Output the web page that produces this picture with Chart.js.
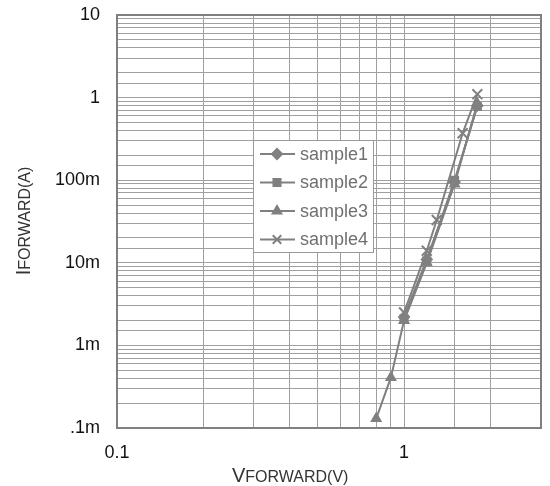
<!DOCTYPE html>
<html>
<head>
<meta charset="utf-8">
<script src="https://cdn.jsdelivr.net/npm/chart.js@4"></script>
<style>
  body { margin: 0; background: #fff; }
  #wrap { width: 550px; height: 486px; }
</style>
</head>
<body>
<div id="wrap"><canvas id="ivChart" width="550" height="486"></canvas></div>
<script>
// --- DATA ---
const seriesNames = ['sample1', 'sample2', 'sample3', 'sample4'];
const seriesMarkers = ['rectRot', 'rect', 'triangle', 'crossRot'];

const voltsSample1 = [1.0, 1.2, 1.5, 1.8];
const ampsSample1 = [2.2e-3, 11e-3, 95e-3, 0.80];

const voltsSample2 = [1.0, 1.2, 1.5, 1.8];
const ampsSample2 = [2.1e-3, 10.5e-3, 100e-3, 0.78];

const voltsSample3 = [0.8, 0.9, 1.0, 1.2, 1.5, 1.8];
const ampsSample3 = [0.13e-3, 0.41e-3, 2.0e-3, 10e-3, 90e-3, 0.85];

const voltsSample4 = [1.0, 1.2, 1.3, 1.6, 1.8];
const ampsSample4 = [2.5e-3, 14e-3, 33e-3, 0.37, 1.1];

const xTickValues = [0.1, 1];
const xTickLabels = ['0.1', '1'];
const yTickValues = [1e-4, 1e-3, 1e-2, 1e-1, 1, 10];
const yTickLabels = ['.1m', '1m', '10m', '100m', '1', '10'];

const seriesVolts = [voltsSample1, voltsSample2, voltsSample3, voltsSample4];
const seriesAmps = [ampsSample1, ampsSample2, ampsSample3, ampsSample4];

// --- STYLE ---
const ink = '#808080';
const gridColor = '#a0a0a0';
const fontFamily = '"Liberation Sans", Arial, sans-serif';

const labelFor = (values, labels) => (v) => {
    const i = values.findIndex(t => Math.abs(Math.log10(t) - Math.log10(v)) < 1e-6);
    return i >= 0 ? labels[i] : '';
};

const markerRadius = (style) => style === 'crossRot' ? 7 : 5;

const datasets = seriesNames.map((name, s) => ({
    label: name,
    data: seriesVolts[s].map((v, i) => ({ x: v, y: seriesAmps[s][i] })),
    borderColor: ink,
    backgroundColor: ink,
    borderWidth: 2,
    pointStyle: seriesMarkers[s],
    pointRadius: markerRadius(seriesMarkers[s]),
    pointBorderWidth: 2,
    pointBackgroundColor: ink,
    pointBorderColor: ink,
    tension: 0
}));

// frame, in-plot legend and two-size axis titles
const decorPlugin = {
    id: 'decor',
    afterDraw(chart) {
        const ctx = chart.ctx;
        const a = chart.chartArea;
        ctx.save();

        // frame
        ctx.strokeStyle = ink;
        ctx.lineWidth = 2;
        ctx.strokeRect(a.left, a.top, a.right - a.left, a.bottom - a.top);

        // legend box
        const lx = a.left + 136, ly = a.top + 125, lw = 120, lh = 112;
        ctx.fillStyle = '#fff';
        ctx.fillRect(lx, ly, lw, lh);
        ctx.strokeStyle = '#9a9a9a';
        ctx.lineWidth = 1;
        ctx.strokeRect(lx + 0.5, ly + 0.5, lw, lh);
        ctx.font = '18px ' + fontFamily;
        ctx.textBaseline = 'middle';
        chart.data.datasets.forEach((ds, i) => {
            const ry = ly + 14 + i * 28.5;
            ctx.strokeStyle = ink;
            ctx.fillStyle = ink;
            ctx.lineWidth = 2;
            ctx.beginPath();
            ctx.moveTo(lx + 7, ry);
            ctx.lineTo(lx + 42, ry);
            ctx.stroke();
            Chart.helpers.drawPoint(ctx, { pointStyle: ds.pointStyle, radius: ds.pointStyle === 'crossRot' ? 6 : 5, borderWidth: 2, rotation: 0 }, lx + 24, ry);
            ctx.fillStyle = '#707070';
            ctx.fillText(ds.label, lx + 47, ry + 1);
        });

        // axis titles (first letter larger, like small caps)
        ctx.fillStyle = '#333';
        ctx.textBaseline = 'alphabetic';
        ctx.font = '20px ' + fontFamily;
        const bigV = ctx.measureText('V').width;
        ctx.fillText('V', 232, 482);
        ctx.font = '16px ' + fontFamily;
        ctx.fillText('FORWARD(V)', 232 + bigV, 482);

        ctx.translate(30, 221);
        ctx.rotate(-Math.PI / 2);
        ctx.font = '20px ' + fontFamily;
        const bigI = ctx.measureText('I').width;
        ctx.font = '16px ' + fontFamily;
        const rest = ctx.measureText('FORWARD(A)').width;
        const start = -(bigI + rest) / 2;
        ctx.font = '20px ' + fontFamily;
        ctx.fillText('I', start, 0);
        ctx.font = '16px ' + fontFamily;
        ctx.fillText('FORWARD(A)', start + bigI, 0);

        ctx.restore();
    }
};

new Chart(document.getElementById('ivChart').getContext('2d'), {
    type: 'line',
    data: { datasets: datasets },
    plugins: [decorPlugin],
    options: {
        responsive: false,
        animation: false,
        layout: { padding: { top: 15, right: 6, left: 0, bottom: 0 } },
        plugins: { legend: { display: false }, tooltip: { enabled: false } },
        scales: {
            x: {
                type: 'logarithmic',
                min: 0.1,
                max: 3,
                afterFit: (scale) => {
                    scale.height = 58;
                    scale.paddingLeft = 0;
                    scale.paddingRight = 0;
                },
                grid: { color: gridColor, lineWidth: 1, drawTicks: false },
                border: { display: false },
                ticks: {
                    autoSkip: false,
                    maxRotation: 0,
                    padding: 14,
                    color: '#111',
                    font: { family: fontFamily, size: 18 },
                    callback: labelFor(xTickValues, xTickLabels)
                }
            },
            y: {
                type: 'logarithmic',
                min: 1e-4,
                max: 10,
                afterFit: (scale) => {
                    scale.width = 117;
                    scale.paddingTop = 0;
                    scale.paddingBottom = 0;
                },
                grid: { color: gridColor, lineWidth: 1, drawTicks: false },
                border: { display: false },
                ticks: {
                    autoSkip: false,
                    padding: 17,
                    color: '#111',
                    font: { family: fontFamily, size: 18 },
                    callback: labelFor(yTickValues, yTickLabels)
                }
            }
        }
    }
});
</script>
</body>
</html>
